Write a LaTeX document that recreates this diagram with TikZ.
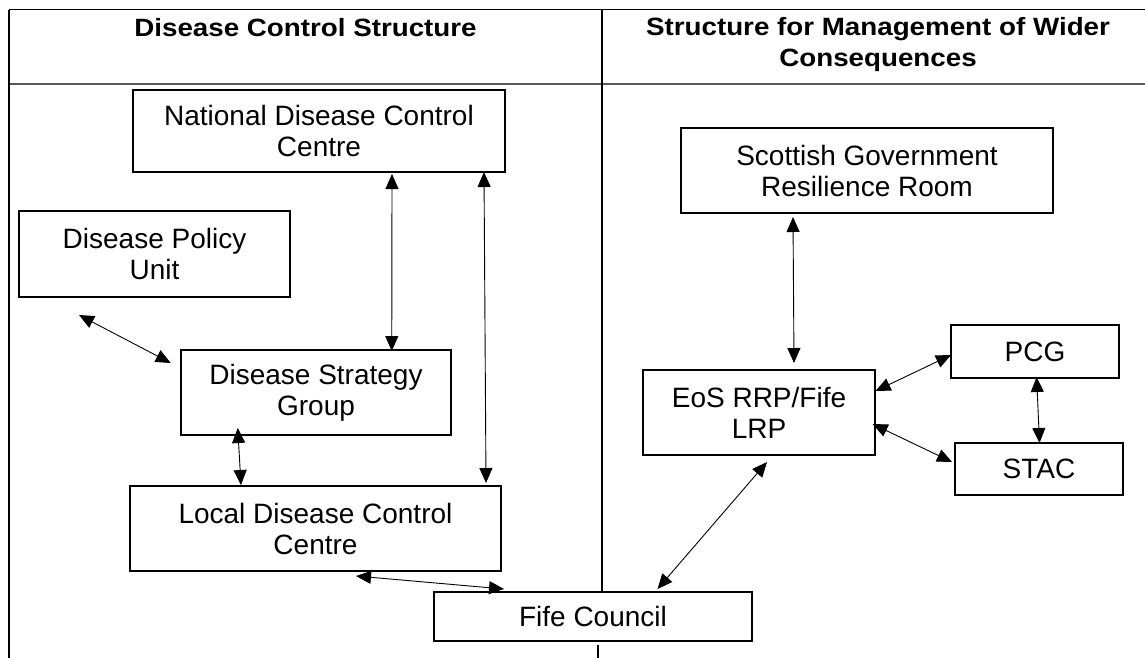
\documentclass[tikz,border=0pt]{standalone}
\usepackage{fontspec}
\setmainfont{Liberation Sans}
\newfontfamily\titlefont{Liberation Sans}[FakeStretch=1.11]
\usetikzlibrary{arrows.meta,calc}
\tikzset{
  box/.style={draw, line width=1.6pt, rectangle, inner sep=0pt, outer sep=0pt,
    align=center, font=\fontsize{28}{31}\selectfont},
  link/.style={line width=0.9pt, {Triangle[length=15pt,width=13pt]}-{Triangle[length=15pt,width=13pt]}},
  rule/.style={line width=1.1pt},
  headrule/.style={line width=1.3pt, black!65},
  title/.style={inner sep=0pt, outer sep=0pt, align=center,
    font=\titlefont\bfseries\fontsize{25}{31}\selectfont}
}
\begin{document}
\begin{tikzpicture}[x=1pt,y=-1pt]
\useasboundingbox (0,0) rectangle (1145,657);
% table frame
\draw[rule] (9,9.5) -- (1150,9.5);
\draw[headrule] (9,84) -- (1150,84);
\draw[rule] (9,9.5) -- (9,660);
\draw[rule] (602,9.5) -- (602,592);
\draw[rule] (598,645) -- (598,660);
% titles
\node[title, anchor=base] (t1) at (305.5,36.5) {Disease Control Structure};
\node[title] (t2) at (878,45) {Structure for Management of Wider\\Consequences};
% boxes
\node[box, minimum width=372pt, minimum height=82pt] (ndcc) at (319,131) {National Disease Control\\Centre};
\node[box, minimum width=271pt, minimum height=86pt] (dpu) at (154.5,254) {Disease Policy\\Unit};
\node[box, minimum width=270.5pt, minimum height=85pt] (dsg) at (316,392.5) {Disease Strategy\\Group};
\node[box, minimum width=371pt, minimum height=85pt] (ldcc) at (315.5,528.5) {Local Disease Control\\Centre};
\node[box, minimum width=318pt, minimum height=49pt] (fc) at (593,616.5) {Fife Council};
\node[box, minimum width=372pt, minimum height=85pt] (sgrr) at (867,170.5) {Scottish Government\\Resilience Room};
\node[box, minimum width=232pt, minimum height=85pt] (eos) at (759,412.5) {EoS RRP/Fife\\LRP};
\node[box, minimum width=168pt, minimum height=53pt] (pcg) at (1035,351.5) {PCG};
\node[box, minimum width=168pt, minimum height=52pt] (stac) at (1039,469) {STAC};
% connectors
\draw[link] ($(dpu.south west)+(60,18)$) -- ($(dsg.north west)+(-10,13)$);
\draw[link] ($(ndcc.south west)+(259,2)$) -- ($(dsg.north west)+(211,1)$);
\draw[link] ($(ndcc.south east)+(-21,0)$) -- ($(ldcc.north east)+(-15,-3)$);
\draw[link] ($(dsg.south west)+(57,-7)$) -- ($(ldcc.north west)+(111,-1)$);
\draw[link] ($(ldcc.south west)+(226,5)$) -- ($(fc.north west)+(70,-3)$);
\draw[link] ($(sgrr.south west)+(112,4)$) -- ($(eos.north west)+(151,-7)$);
\draw[link] ($(eos.north east)+(0.5,21)$) -- ($(pcg.north west)+(0,30)$);
\draw[link] ($(eos.north east)+(-2.4,54)$) -- ($(stac.north west)+(-3,19)$);
\draw[link] ($(pcg.south west)+(85.6,-1)$) -- ($(stac.north west)+(84.5,0)$);
\draw[link] ($(eos.south west)+(124,7)$) -- ($(fc.north west)+(223.5,-3)$);
\end{tikzpicture}
\end{document}
